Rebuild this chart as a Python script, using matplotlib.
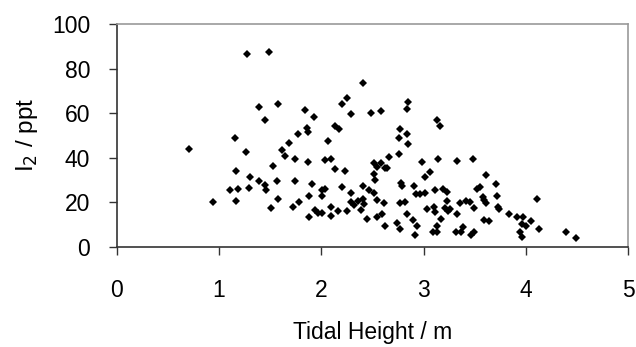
import matplotlib.pyplot as plt

plt.rcParams["font.family"] = ["Liberation Sans", "DejaVu Sans"]

# tidal height (m) and iodine mixing ratio (ppt) for each sample
tidal_height = [
    0.71, 0.94, 1.27, 1.49, 1.16, 1.26, 1.17, 1.11, 1.19, 1.17,
    1.29, 1.30, 1.39, 1.45, 1.58, 1.39, 1.45, 1.46, 1.51, 1.53,
    1.57, 1.58, 1.62, 1.65, 1.68, 1.74, 1.77, 1.84, 1.86, 1.87,
    1.93, 1.74, 1.72, 1.78, 1.87, 1.91, 1.88, 1.88, 1.94, 1.97,
    2.01, 2.01, 2.01, 2.04, 2.04, 2.07, 2.10, 2.13, 2.13, 2.17,
    2.20, 2.25, 2.29, 2.41, 2.23, 2.20, 2.29, 2.10, 2.10, 2.16,
    2.25, 2.29, 2.32, 2.36, 2.41, 2.42, 2.39, 2.45, 2.41, 2.47,
    2.49,
    2.58, 2.85, 2.84, 2.77, 2.76, 2.84, 2.85, 3.13, 3.16, 2.66,
    2.76, 2.52, 2.58, 2.55, 2.62, 2.64, 2.52, 2.53, 2.99, 3.14,
    3.33, 3.48, 3.06, 3.01, 3.61, 2.52, 2.55, 2.61, 2.55, 2.59,
    2.62, 2.77, 2.82, 2.84, 2.78, 2.79, 2.91, 2.90, 2.74, 2.77,
    2.94, 2.92, 2.93, 2.97, 3.01, 3.11, 3.19, 3.23, 3.23, 3.03,
    3.10, 3.11, 3.21, 3.24, 3.26, 3.33, 3.17, 3.13, 3.09, 3.13,
    3.32, 3.39, 3.37, 3.46, 3.49, 3.36, 3.42, 3.45, 3.49, 3.52,
    3.55, 3.58, 3.59, 3.61, 3.71, 3.72, 3.73, 3.74, 3.59, 3.64,
    3.84, 3.91, 3.97, 3.96, 3.94, 3.96, 4.00, 4.05, 4.11, 4.13,
    4.39, 4.49,
]
iodine = [
    44.0, 19.9, 86.7, 87.4, 48.8, 42.7, 34.0, 25.3, 25.9, 20.7,
    26.5, 31.4, 62.7, 56.7, 64.1, 29.3, 27.5, 25.3, 17.2, 36.1,
    29.3, 21.3, 43.4, 40.7, 46.7, 39.4, 50.6, 61.4, 53.3, 51.3,
    58.1, 29.3, 18.0, 19.9, 38.0, 28.0, 22.6, 13.3, 16.6, 15.3,
    15.3, 22.6, 25.3, 25.9, 38.8, 47.3, 39.4, 34.7, 54.0, 52.7,
    64.1, 66.6, 59.4, 73.4, 34.0, 26.6, 24.0, 18.0, 13.9, 15.9,
    15.9, 19.9, 18.6, 20.7, 21.3, 19.3, 16.6, 12.6, 27.4, 25.3,
    60.0,
    60.8, 65.0, 62.0, 52.8, 49.0, 50.7, 46.1, 56.9, 54.0, 40.1,
    41.5, 37.4, 37.4, 35.6, 35.5, 35.2, 32.6, 29.9, 37.9, 39.2,
    38.6, 39.2, 33.4, 31.4, 32.0, 24.3, 21.0, 19.5, 13.5, 14.8,
    9.3, 19.5, 19.9, 14.8, 28.7, 27.4, 27.4, 12.0, 10.8, 8.1,
    9.4, 5.4, 23.5, 23.7, 24.3, 25.4, 26.0, 24.6, 20.7, 16.8,
    17.7, 15.7, 17.2, 16.0, 16.8, 14.8, 12.6, 9.4, 6.7, 6.7,
    6.7, 8.7, 6.7, 5.4, 6.7, 19.5, 20.5, 19.9, 17.2, 26.0,
    26.9, 22.2, 21.0, 19.5, 28.0, 22.8, 18.0, 16.8, 12.1, 11.4,
    14.8, 13.5, 13.5, 10.2, 6.7, 4.5, 9.4, 11.4, 21.4, 8.1,
    6.7, 3.9,
]

fig = plt.figure(figsize=(6.36, 3.47), dpi=100)
ax = fig.add_axes([0.1835, 0.289, 0.804, 0.6418])

ax.plot(tidal_height, iodine, linestyle="none", marker="D",
        markersize=4.4, color="black", markeredgewidth=0)

ax.set_xlim(0, 5)
ax.set_ylim(0, 100)
ax.set_xticks(range(0, 6))
ax.set_yticks(range(0, 101, 20))

for side in ("left", "bottom"):
    ax.spines[side].set_color("#333333")
    ax.spines[side].set_linewidth(1.2)
for side in ("top", "right"):
    ax.spines[side].set_color("#999999")
    ax.spines[side].set_linewidth(1.2)

ax.tick_params(axis="both", direction="out", length=6, width=1,
               color="#333333", labelsize=16.5)
ax.tick_params(axis="x", pad=17)
ax.tick_params(axis="y", pad=13)

ax.set_xlabel("Tidal Height / m", fontsize=16.5, labelpad=14)
ax.set_ylabel("I$_2$ / ppt", fontsize=17.5, labelpad=9)

fig.savefig("out.png", dpi=100)
